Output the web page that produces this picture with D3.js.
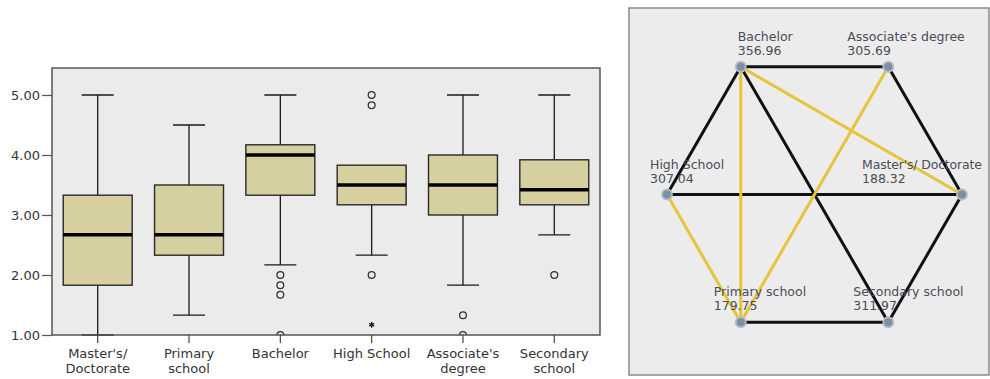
<!DOCTYPE html>
<html>
<head>
<meta charset="utf-8">
<script src="https://cdn.jsdelivr.net/npm/d3@7"></script>
<style>
  html, body { margin: 0; padding: 0; background: #ffffff; }
  svg { display: block; }
  text { font-family: "DejaVu Sans", Verdana, sans-serif; }
</style>
</head>
<body>
<svg id="chart" width="990" height="379"></svg>
<script>
// ---- Box plot data: score by education level ----
const categories = ["Master's/ Doctorate", "Primary school", "Bachelor", "High School", "Associate's degree", "Secondary school"];
const categoryLines = [["Master's/", "Doctorate"], ["Primary", "school"], ["Bachelor"], ["High School"], ["Associate's", "degree"], ["Secondary", "school"]];
const whiskerLow  = [1.00, 1.33, 2.17, 2.33, 1.83, 2.67];
const q1          = [1.83, 2.33, 3.33, 3.17, 3.00, 3.17];
const medians     = [2.67, 2.67, 4.00, 3.50, 3.50, 3.42];
const q3          = [3.33, 3.50, 4.17, 3.83, 4.00, 3.92];
const whiskerHigh = [5.00, 4.50, 5.00, 3.83, 5.00, 5.00];

// outliers (circle) and extreme values (star)
const outlierGroups = ["Bachelor", "Bachelor", "Bachelor", "Bachelor", "High School", "High School", "High School", "High School", "Associate's degree", "Associate's degree", "Secondary school"];
const outlierValues = [2.00, 1.83, 1.67, 1.00, 5.00, 4.83, 2.00, 1.17, 1.33, 1.00, 2.00];
const outlierKinds  = ["o", "o", "o", "o", "o", "o", "o", "*", "o", "o", "o"];

const yTicks = [1, 2, 3, 4, 5];

// ---- Pairwise comparison graph: mean ranks ----
const nodeNames = ["Bachelor", "Associate's degree", "Master's/ Doctorate", "Secondary school", "Primary school", "High School"];
const meanRanks = [356.96, 305.69, 188.32, 311.97, 179.75, 307.04];
const edgeFrom = ["Bachelor", "Associate's degree", "Master's/ Doctorate", "Secondary school", "High School", "High School", "Bachelor", "Bachelor", "Bachelor", "Associate's degree", "High School"];
const edgeTo   = ["Associate's degree", "Master's/ Doctorate", "Secondary school", "Primary school", "Bachelor", "Master's/ Doctorate", "Secondary school", "Primary school", "Master's/ Doctorate", "Primary school", "Primary school"];
const edgeSignificant = [false, false, false, false, false, false, false, true, true, true, true];

const svg = d3.select("#chart");

// ================= Box plot =================
const plot = { left: 52, right: 600, top: 68, bottom: 335 };

const x = d3.scaleBand().domain(categories).range([plot.left, plot.right]).paddingInner(0.245).paddingOuter(0.123);
const y = d3.scaleLinear().domain([1, 5]).range([335, 95]);

svg.append("defs").append("clipPath").attr("id", "plotClip")
  .append("rect")
  .attr("x", plot.left).attr("y", plot.top)
  .attr("width", plot.right - plot.left).attr("height", plot.bottom - plot.top);

svg.append("rect")
  .attr("x", plot.left).attr("y", plot.top)
  .attr("width", plot.right - plot.left).attr("height", plot.bottom - plot.top)
  .attr("fill", "#ebebeb");

const boxes = svg.append("g");
const rows = categories.map((c, i) => ({ c, lo: whiskerLow[i], q1: q1[i], med: medians[i], q3: q3[i], hi: whiskerHigh[i] }));
const capHalf = 16;

const g = boxes.selectAll("g.box").data(rows).join("g").attr("class", "box");
// whisker stems
g.append("line")
  .attr("x1", d => x(d.c) + x.bandwidth() / 2).attr("x2", d => x(d.c) + x.bandwidth() / 2)
  .attr("y1", d => y(d.hi)).attr("y2", d => y(d.q3))
  .attr("stroke", "#1a1a1a").attr("stroke-width", 1.3);
g.append("line")
  .attr("x1", d => x(d.c) + x.bandwidth() / 2).attr("x2", d => x(d.c) + x.bandwidth() / 2)
  .attr("y1", d => y(d.q1)).attr("y2", d => y(d.lo))
  .attr("stroke", "#1a1a1a").attr("stroke-width", 1.3);
// whisker caps
g.filter(d => d.hi > d.q3).append("line")
  .attr("x1", d => x(d.c) + x.bandwidth() / 2 - capHalf).attr("x2", d => x(d.c) + x.bandwidth() / 2 + capHalf)
  .attr("y1", d => y(d.hi)).attr("y2", d => y(d.hi))
  .attr("stroke", "#1a1a1a").attr("stroke-width", 1.3);
g.append("line")
  .attr("x1", d => x(d.c) + x.bandwidth() / 2 - capHalf).attr("x2", d => x(d.c) + x.bandwidth() / 2 + capHalf)
  .attr("y1", d => y(d.lo)).attr("y2", d => y(d.lo))
  .attr("stroke", "#1a1a1a").attr("stroke-width", 1.3);
// boxes
g.append("rect")
  .attr("x", d => x(d.c)).attr("width", x.bandwidth())
  .attr("y", d => y(d.q3)).attr("height", d => y(d.q1) - y(d.q3))
  .attr("fill", "#d6cfa0").attr("stroke", "#2a2a2a").attr("stroke-width", 1.4);
// medians
g.append("line")
  .attr("x1", d => x(d.c)).attr("x2", d => x(d.c) + x.bandwidth())
  .attr("y1", d => y(d.med)).attr("y2", d => y(d.med))
  .attr("stroke", "#000").attr("stroke-width", 3.5);

// outliers
const outliers = outlierValues.map((v, i) => ({ c: outlierGroups[i], v, k: outlierKinds[i] }));
const og = svg.append("g").attr("clip-path", "url(#plotClip)");
og.selectAll("circle").data(outliers.filter(d => d.k === "o")).join("circle")
  .attr("cx", d => x(d.c) + x.bandwidth() / 2).attr("cy", d => y(d.v))
  .attr("r", 3.4).attr("fill", "none").attr("stroke", "#333").attr("stroke-width", 1.3);
og.selectAll("path.star").data(outliers.filter(d => d.k === "*")).join("path")
  .attr("class", "star")
  .attr("d", d3.symbol().type(d3.symbolAsterisk).size(22))
  .attr("transform", d => `translate(${x(d.c) + x.bandwidth() / 2},${y(d.v)})`)
  .attr("fill", "none").attr("stroke", "#222").attr("stroke-width", 1.4);

// frame
svg.append("rect")
  .attr("x", plot.left).attr("y", plot.top)
  .attr("width", plot.right - plot.left).attr("height", plot.bottom - plot.top)
  .attr("fill", "none").attr("stroke", "#555").attr("stroke-width", 1.5);

// y axis
const yAxis = svg.append("g")
  .attr("transform", `translate(${plot.left},0)`)
  .call(d3.axisLeft(y).tickValues(yTicks).tickFormat(d3.format(".2f")).tickSize(10).tickPadding(2));
yAxis.select(".domain").remove();
yAxis.selectAll(".tick line").attr("stroke", "#555").attr("stroke-width", 1.2);
yAxis.selectAll(".tick text").attr("fill", "#333").style("font-size", "13px").style("font-family", "'DejaVu Sans', sans-serif");

// x axis
const xAxis = svg.append("g")
  .attr("transform", `translate(0,${plot.bottom})`)
  .call(d3.axisBottom(x).tickSize(8).tickFormat(""));
xAxis.select(".domain").remove();
xAxis.selectAll(".tick line").attr("stroke", "#444").attr("stroke-width", 1.2);
xAxis.selectAll(".tick").each(function (d, i) {
  const t = d3.select(this).append("text")
    .attr("fill", "#333").attr("text-anchor", "middle")
    .style("font-size", "13px");
  categoryLines[i].forEach((line, j) => {
    t.append("tspan").attr("x", 0).attr("y", 23 + j * 15).text(line);
  });
});

// ================= Pairwise comparison graph =================
const panel = { x: 629, y: 8, w: 360, h: 367 };
svg.append("clipPath").attr("id", "panelClip")
  .append("rect").attr("x", panel.x).attr("y", panel.y).attr("width", panel.w - 1).attr("height", panel.h);
svg.append("rect")
  .attr("x", panel.x).attr("y", panel.y).attr("width", panel.w).attr("height", panel.h)
  .attr("fill", "#ececec").attr("stroke", "#8a8a8a").attr("stroke-width", 1.5);

// nodes sit on a regular hexagon, starting at the upper-left vertex
const hex = { cx: 814.5, cy: 194.5, r: 147.5 };
const angleScale = d3.scalePoint().domain(nodeNames).range([120, -180]);
const nodes = nodeNames.map((n, i) => {
  const a = angleScale(n) * Math.PI / 180;
  return { name: n, rank: meanRanks[i], x: hex.cx + hex.r * Math.cos(a), y: hex.cy - hex.r * Math.sin(a) };
});
const nodeBy = new Map(nodes.map(d => [d.name, d]));
const edges = edgeFrom.map((f, i) => ({ s: nodeBy.get(f), t: nodeBy.get(edgeTo[i]), sig: edgeSignificant[i] }));

const net = svg.append("g").attr("clip-path", "url(#panelClip)");
net.selectAll("line.edge").data(edges.filter(e => !e.sig).concat(edges.filter(e => e.sig))).join("line")
  .attr("class", "edge")
  .attr("x1", d => d.s.x).attr("y1", d => d.s.y)
  .attr("x2", d => d.t.x).attr("y2", d => d.t.y)
  .attr("stroke", d => d.sig ? "#e6c43c" : "#111")
  .attr("stroke-width", 3)
  .attr("stroke-linecap", "round");

net.selectAll("circle.node").data(nodes).join("circle")
  .attr("class", "node")
  .attr("cx", d => d.x).attr("cy", d => d.y).attr("r", 5)
  .attr("fill", "#7d8fa3").attr("stroke", "#b3bdc8").attr("stroke-width", 1.8);

const labelDx = { "Bachelor": -3, "Associate's degree": -41, "Master's/ Doctorate": -100, "Secondary school": -35, "Primary school": -27, "High School": -17 };
const lbl = net.selectAll("text.lbl").data(nodes).join("text")
  .attr("class", "lbl")
  .attr("fill", "#4b4d57")
  .style("font-size", "12.5px");
lbl.append("tspan").attr("x", d => d.x + labelDx[d.name]).attr("y", d => d.y - 26)
  .attr("textLength", d => d.name === "Master's/ Doctorate" ? 120 : null)
  .text(d => d.name);
lbl.append("tspan").attr("x", d => d.x + labelDx[d.name]).attr("y", d => d.y - 12).text(d => d3.format(".2f")(d.rank));
</script>
</body>
</html>
